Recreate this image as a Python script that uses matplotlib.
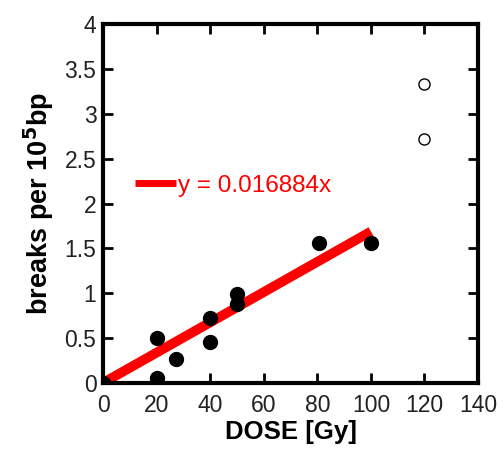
import matplotlib
matplotlib.use("Agg")
import matplotlib.pyplot as plt
from matplotlib.lines import Line2D

# Data
dose = [0, 20, 20, 27, 40, 40, 50, 50, 80.5, 100]
breaks = [0.0, 0.50, 0.05, 0.27, 0.72, 0.45, 0.99, 0.88, 1.56, 1.56]
dose_open = [120, 120]
breaks_open = [3.34, 2.72]
slope = 0.016884
fit_x = [0, 100]
xticks = [0, 20, 40, 60, 80, 100, 120, 140]
yticks = [0, 0.5, 1, 1.5, 2, 2.5, 3, 3.5, 4]
ytick_labels = ["0", "0.5", "1", "1.5", "2", "2.5", "3", "3.5", "4"]

plt.rcParams['font.family'] = ['Liberation Sans', 'DejaVu Sans']

fig = plt.figure(figsize=(5.04, 4.51), dpi=100)
ax = fig.add_axes([0.205, 0.1514, 0.7434, 0.7943])

ax.plot(fit_x, [slope * x for x in fit_x], color='#ff0000', lw=7,
        solid_capstyle='butt', zorder=2)
ax.plot(dose, breaks, 'o', color='black', ms=10, zorder=3)
ax.plot(dose_open, breaks_open, 'o', mfc='white', mec='black', mew=1.0,
        ms=8, zorder=3)

ax.set_xlim(0, 140)
ax.set_ylim(0, 4)
ax.set_xticks(xticks)
ax.set_xticklabels([str(t) for t in xticks])
ax.set_yticks(yticks)
ax.set_yticklabels(ytick_labels)
ax.tick_params(direction='in', length=7, width=2, top=True, right=True,
               labelsize=16.5, colors='black')
ax.tick_params(axis='x', pad=8)
ax.tick_params(axis='y', pad=5)
for lab in ax.get_xticklabels() + ax.get_yticklabels():
    lab.set_color('#222222')
for s in ax.spines.values():
    s.set_linewidth(3)

ax.set_xlabel('DOSE [Gy]', fontsize=18.5, fontweight='bold', labelpad=2)
ax.set_ylabel(r'breaks per 10$^{\mathbf{5}}$bp', fontsize=19.5, fontweight='bold',
              labelpad=6)

handle = Line2D([], [], color='#ff0000', lw=5, solid_capstyle='butt')
ax.legend([handle], ['y = 0.016884x'], loc='center left',
          bbox_to_anchor=(0.025, 0.55), frameon=False, handlelength=1.7,
          handletextpad=0.08, fontsize=17.5, labelcolor='#ff0000')

fig.savefig('out.png', dpi=100)
